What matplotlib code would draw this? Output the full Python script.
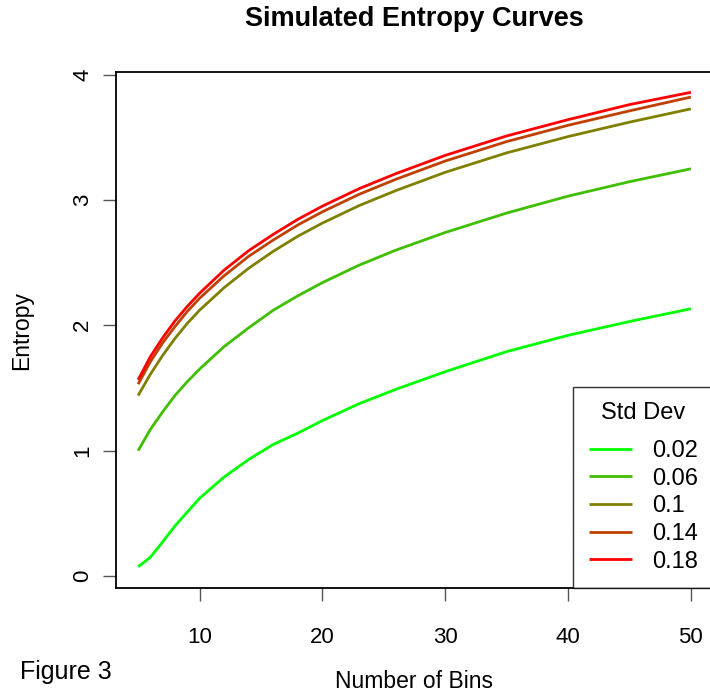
import matplotlib
matplotlib.use("Agg")
import matplotlib.pyplot as plt

plt.rcParams['font.family'] = ['Liberation Sans', 'DejaVu Sans']

bins = [5, 6, 7, 8, 9, 10, 12, 14, 16, 18, 20, 23, 26, 30, 35, 40, 45, 50]
sd_labels = ["0.02", "0.06", "0.1", "0.14", "0.18"]
colors = ["#00FF00", "#40BF00", "#808000", "#BF4000", "#FF0000"]

entropy_002 = [0.074, 0.15, 0.273, 0.40, 0.51, 0.62, 0.79, 0.93, 1.05, 1.14, 1.24, 1.375, 1.49, 1.63, 1.79, 1.92, 2.03, 2.132]
entropy_006 = [1.00, 1.17, 1.31, 1.44, 1.55, 1.65, 1.83, 1.98, 2.12, 2.235, 2.34, 2.48, 2.60, 2.74, 2.895, 3.03, 3.145, 3.248]
entropy_010 = [1.44, 1.61, 1.76, 1.895, 2.015, 2.12, 2.30, 2.455, 2.59, 2.71, 2.815, 2.955, 3.075, 3.22, 3.375, 3.505, 3.62, 3.726]
entropy_014 = [1.53, 1.71, 1.86, 1.99, 2.11, 2.215, 2.395, 2.55, 2.68, 2.80, 2.905, 3.045, 3.165, 3.31, 3.465, 3.595, 3.71, 3.82]
entropy_018 = [1.565, 1.75, 1.90, 2.035, 2.15, 2.255, 2.44, 2.595, 2.725, 2.845, 2.95, 3.09, 3.21, 3.355, 3.51, 3.64, 3.76, 3.858]
series = [entropy_002, entropy_006, entropy_010, entropy_014, entropy_018]

x_ticks = [10, 20, 30, 40, 50]
y_ticks = [0, 1, 2, 3, 4]

W, H = 710, 694
fig = plt.figure(figsize=(W / 100, H / 100), dpi=100)
left, right, top, bottom = 116, 713, 72, 588
ax = fig.add_axes([left / W, 1 - bottom / H, (right - left) / W, (bottom - top) / H])

for vals, c, lab in zip(series, colors, sd_labels):
    ax.plot(bins, vals, color=c, lw=2.0, label=lab, solid_capstyle='butt')

ax.set_xlim(3.2, 51.8)
ax.set_ylim(-0.095, 4.02)
ax.set_xticks(x_ticks)
ax.set_yticks(y_ticks)
ax.set_xticklabels([str(t) for t in x_ticks])
ax.set_yticklabels([str(t) for t in y_ticks], rotation=90, va='center')
ax.tick_params(axis='both', direction='out', length=9.4, width=1.0, color='#555555',
               labelsize=16, labelcolor='black')
ax.tick_params(axis='x', pad=19)
ax.tick_params(axis='y', pad=7)
for s in ax.spines.values():
    s.set_color('black')
    s.set_linewidth(1.3)

fig.text(414 / W, 1 - 19 / H, "Simulated Entropy Curves", ha='center', va='center',
         fontsize=19.5, fontweight='bold')
fig.text(22 / W, 1 - 330 / H, "Entropy", ha='center', va='center', rotation=90, fontsize=16.5)
fig.text(414 / W, 1 - 682 / H, "Number of Bins", ha='center', va='center', fontsize=16.5)
fig.text(20 / W, 1 - 672 / H, "Figure 3", ha='left', va='center', fontsize=18)

leg = ax.legend(title="Std Dev", loc='lower right', bbox_to_anchor=(1.0, 0.0),
                borderaxespad=0.0, fontsize=17, title_fontsize=17, frameon=True,
                fancybox=False, edgecolor='black', handlelength=1.82, handletextpad=0.85,
                labelspacing=0.24, borderpad=0.65)
leg.get_frame().set_linewidth(1.0)
try:
    leg._legend_box.sep = 11.4
except Exception:
    pass
for l in leg.get_lines():
    l.set_linewidth(2.0)

fig.savefig("out.png", dpi=100)
